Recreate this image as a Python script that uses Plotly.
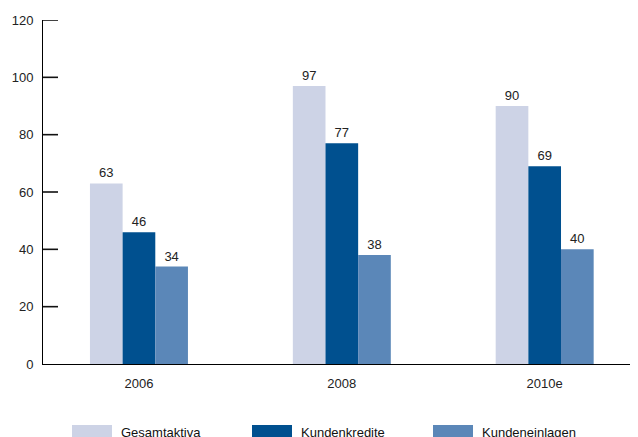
import plotly.graph_objects as go

categories = ["2006", "2008", "2010e"]
gesamtaktiva = [63, 97, 90]
kundenkredite = [46, 77, 69]
kundeneinlagen = [34, 38, 40]
series_names = ["Gesamtaktiva", "Kundenkredite", "Kundeneinlagen"]
colors = ["#CDD3E6", "#00508F", "#5B87B8"]
y_ticks = [0, 20, 40, 60, 80, 100, 120]

OFF = 8  # default body margin of the html page
W, H = 638 - OFF, 437 - OFF
ML, MR, MT = 43 - OFF, 0, 20 - OFF
PH = 344
MB = H - MT - PH
PW = W - ML - MR
FONT = "Liberation Sans, Arial, sans-serif"

def px(x):  # page pixel -> paper x
    return (x - OFF - ML) / PW

def py(y):  # page pixel -> paper y
    return (H - MB - (y - OFF)) / PH

fig = go.Figure()
for name, vals, col in zip(series_names, [gesamtaktiva, kundenkredite, kundeneinlagen], colors):
    fig.add_trace(go.Bar(
        x=categories, y=vals, name=name, marker=dict(color=col, line=dict(width=0)),
        text=[str(v) for v in vals], textposition="outside",
        textfont=dict(family=FONT, size=13, color="#222222"),
        cliponaxis=False, showlegend=False,
    ))

# y tick marks pointing into the plot, placed on the y scale
for v in y_ticks[1:]:
    fig.add_shape(type="line", xref="paper", yref="y", x0=0, x1=15 / PW, y0=v, y1=v,
                  line=dict(color="#111111", width=1.6), layer="above")

# custom legend
legend_x = [72, 252, 433]
for name, col, lx in zip(series_names, colors, legend_x):
    fig.add_shape(type="rect", xref="paper", yref="paper",
                  x0=px(lx), x1=px(lx + 40), y0=py(425), y1=py(445),
                  fillcolor=col, line=dict(width=0))
    fig.add_annotation(xref="paper", yref="paper", x=px(lx + 47), y=py(433),
                       text=name, showarrow=False, xanchor="left", yanchor="middle",
                       font=dict(family=FONT, size=13, color="#111111"))

fig.update_layout(
    width=W, height=H,
    margin=dict(l=ML, r=MR, t=MT, b=MB, autoexpand=False),
    paper_bgcolor="white", plot_bgcolor="white",
    barmode="group", bargap=0.517, bargroupgap=0,
    font=dict(family=FONT, size=13, color="#222222"),
    xaxis=dict(type="category", range=[-0.473, 2.46], showline=True, linecolor="black",
               linewidth=1, ticks="", showgrid=False, zeroline=False, automargin=False,
               ticklabelstandoff=7, tickfont=dict(size=13, color="#222222")),
    yaxis=dict(range=[0, 120], tickvals=y_ticks, showline=True, linecolor="black",
               linewidth=1, ticks="", showgrid=False, zeroline=False, automargin=False,
               ticklabelstandoff=6, tickfont=dict(size=13, color="#222222")),
)

fig.write_html("out.html")
